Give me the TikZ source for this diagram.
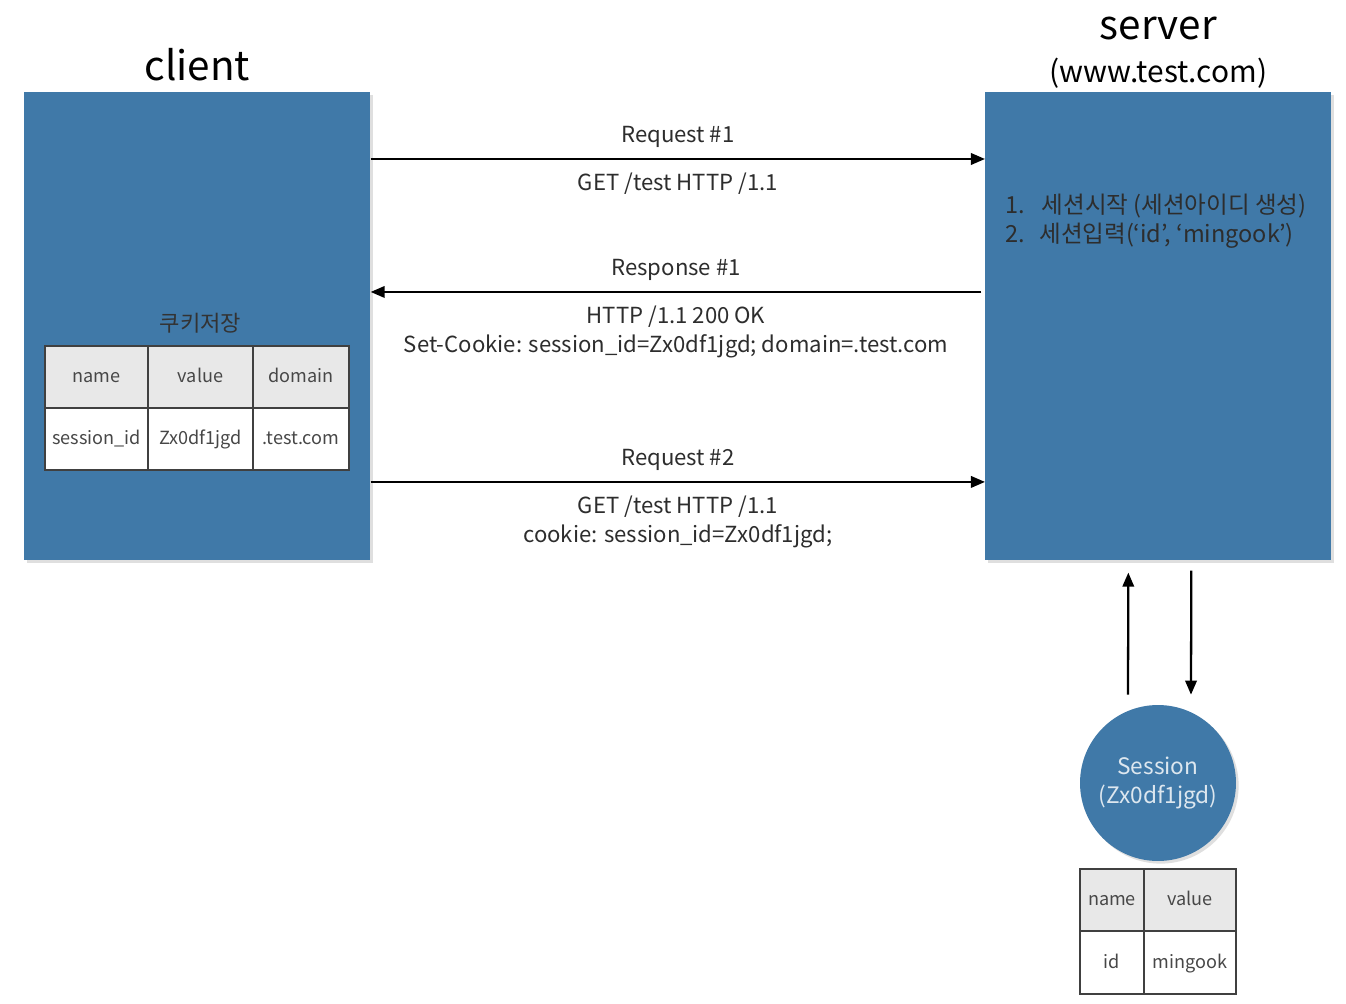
\documentclass[tikz,border=0pt]{standalone}
\usepackage{fontspec}
\setmainfont{Noto Sans CJK KR}
\usetikzlibrary{positioning,arrows.meta,shadows}
\definecolor{boxblue}{RGB}{64,121,168}
\definecolor{headgray}{RGB}{232,232,232}
\definecolor{txtgray}{RGB}{45,45,45}

\begin{document}
\begin{tikzpicture}[
  x=0.02cm, y=-0.02cm,
  node distance=0.3cm and 0.6cm,
  box/.style={fill=boxblue, minimum width=6.92cm, minimum height=9.36cm, anchor=north west, drop shadow={opacity=0.25, shadow xshift=1.5pt, shadow yshift=-1.5pt}},
  ttl/.style={font=\fontsize{23}{27}\selectfont, inner sep=0pt},
  cell/.style={draw=black!75, line width=0.9pt, fill=#1, minimum height=1.24cm, inner sep=0pt, outer sep=0pt, text height=1.6ex, text depth=0.4ex, font=\fontsize{10.3}{13}\selectfont, text=black!72},
  cell/.default={white},
  arr/.style={-{Triangle[length=8pt, width=6.5pt]}, line width=1.3pt},
  lbl/.style={font=\fontsize{12.6}{16.5}\selectfont, text=txtgray, align=center, inner sep=3pt},
]
\useasboundingbox[fill=white] (0,0) rectangle (1346,1004);

% ── Client / server boxes ────────────────────────────────────
\node[box] (client) at (24,92) {};
\node[box] (server) at (985,92) {};

\node[ttl, above=0.21cm of client] (clientttl) {client};
\node[font=\fontsize{17}{20}\selectfont, inner sep=0pt, above=0.06cm of server] (srvurl) {(www.test.com)};
\node[ttl, above=0.36cm of srvurl] (serverttl) {server};

% ── Requests / response ──────────────────────────────────────
\draw[arr] ([yshift=-1.34cm]client.north east) -- node[lbl, above=3pt] {Request \#1} node[lbl, below=4.5pt] {GET /test HTTP /1.1} ([yshift=-1.34cm]server.north west);
\draw[arr] ([xshift=-2pt, yshift=-4cm]server.north west) -- node[lbl, above=3pt] {Response \#1} node[lbl, below=4.5pt] {HTTP /1.1 200 OK\\Set-Cookie: session\_id=Zx0df1jgd; domain=.test.com} ([yshift=-4cm]client.north east);
\draw[arr] ([yshift=-7.8cm]client.north east) -- node[lbl, above=3pt] {Request \#2} node[lbl, below=4.5pt] {GET /test HTTP /1.1\\cookie: session\_id=Zx0df1jgd;} ([yshift=-7.8cm]server.north west);

% ── Cookie store (client) ────────────────────────────────────
\node[cell=headgray, minimum width=2.06cm, anchor=north west] (ckname) at (45,346) {name};
\node[cell=headgray, minimum width=2.1cm, right=0pt of ckname]  (ckvalue)  {value};
\node[cell=headgray, minimum width=1.92cm, right=0pt of ckvalue] (ckdomain) {domain};
\node[cell, minimum width=2.06cm, below=0pt of ckname]   (ckid)  {session\_id};
\node[cell, minimum width=2.1cm, below=0pt of ckvalue]   (ckval) {Zx0df1jgd};
\node[cell, minimum width=1.92cm, below=0pt of ckdomain] (ckdom) {.test.com};
\node[lbl, text=black!80, above=0.15cm of ckvalue] (cklabel) {쿠키저장};

% ── Server steps ─────────────────────────────────────────────
\node[lbl, anchor=north west, align=left, font=\fontsize{13.4}{17}\selectfont] (steps) at ([xshift=0.3cm, yshift=-1.92cm]server.north west) {1.\hspace{0.7em}세션시작 (세션아이디 생성)\\2.\hspace{0.6em}세션입력(‘id’, ‘mingook’)};

% ── Session store ────────────────────────────────────────────
\node[circle, fill=boxblue, minimum size=3.12cm, align=center, text=white!82!boxblue, font=\fontsize{12.9}{16.5}\selectfont, drop shadow={opacity=0.25, shadow xshift=1.5pt, shadow yshift=-1.5pt}] (session) at (1158,783) {Session\\(Zx0df1jgd)};
\draw[arr] ([xshift=-0.6cm, yshift=0.2cm]session.north) -- ([xshift=-0.6cm, yshift=-0.24cm]server.south);
\draw[arr] ([xshift=0.66cm, yshift=-0.2cm]server.south) -- ([xshift=0.66cm, yshift=0.2cm]session.north);

\node[cell=headgray, minimum width=1.28cm, anchor=north west] (ssname) at (1080,869) {name};
\node[cell=headgray, minimum width=1.84cm, right=0pt of ssname] (ssvalue) {value};
\node[cell, minimum width=1.28cm, minimum height=1.26cm, below=0pt of ssname]  (ssid)  {id};
\node[cell, minimum width=1.84cm, minimum height=1.26cm, below=0pt of ssvalue] (ssval) {mingook};

\end{tikzpicture}
\end{document}
